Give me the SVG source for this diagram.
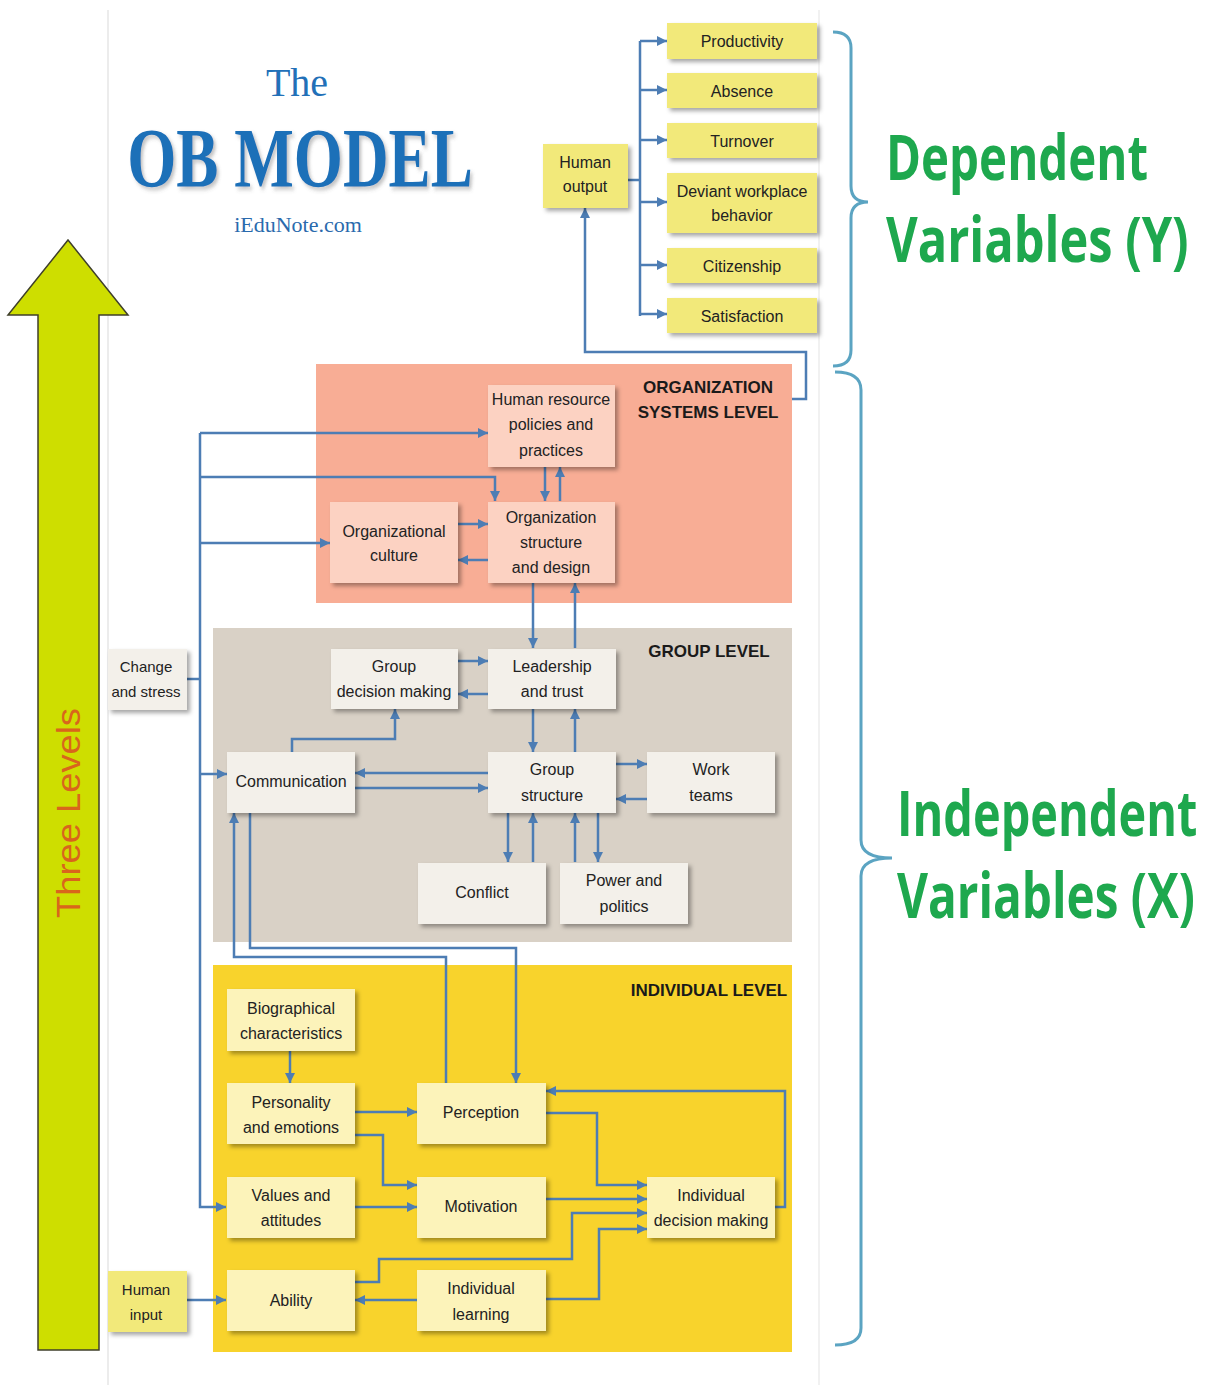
<svg xmlns="http://www.w3.org/2000/svg" width="1208" height="1385" viewBox="0 0 1208 1385">
<defs>
<filter id="sh" x="-10%" y="-10%" width="130%" height="140%">
<feDropShadow dx="3" dy="3" stdDeviation="2" flood-color="#000" flood-opacity="0.35"/>
</filter>
<filter id="tsh" x="-5%" y="-5%" width="110%" height="120%">
<feDropShadow dx="3" dy="3" stdDeviation="2" flood-color="#555" flood-opacity="0.35"/>
</filter>
<marker id="ah" viewBox="0 0 10 10" refX="10" refY="5" markerWidth="12" markerHeight="10" markerUnits="userSpaceOnUse" orient="auto">
<path d="M0,0 L10,5 L0,10 z" fill="#4d7db4"/>
</marker>
<style>
.n text{font-family:"Liberation Sans",Arial,sans-serif;font-size:16px;fill:#222;text-anchor:middle}
.side text{font-size:15px}
.out rect{fill:#f2e97a;filter:url(#sh)}
.org rect{fill:#fcd2c2;filter:url(#sh)}
.grp rect{fill:#f3f0ea;filter:url(#sh)}
.ind rect{fill:#fcf3ba;filter:url(#sh)}
.side rect{filter:url(#sh)}
.lvl{font-family:"Liberation Sans",Arial,sans-serif;font-weight:bold;font-size:17px;fill:#1a1a1a;text-anchor:middle}
.c path{fill:none;stroke:#4d7db4;stroke-width:2.5}
.c .a{marker-end:url(#ah)}
.var{font-family:"Open Sans","Liberation Sans",sans-serif;font-weight:bold;fill:#1ea84e;font-size:62px}
.brace{fill:none;stroke:#5ba4c2;stroke-width:3}
</style>
</defs>
<rect width="1208" height="1385" fill="#fff"/>
<line x1="108" y1="10" x2="108" y2="1385" stroke="#e6e6e6" stroke-width="1.5"/>
<line x1="819" y1="10" x2="819" y2="1385" stroke="#ececec" stroke-width="1.5"/>

<!-- Title -->
<g id="title">
<text x="297" y="96" font-family="Liberation Serif,serif" font-size="40" fill="#2270b8" text-anchor="middle">The</text>
<text transform="translate(300,187) scale(0.75,1)" font-family="Liberation Serif,serif" font-weight="bold" font-size="84" fill="#1f6fb8" text-anchor="middle" textLength="461" lengthAdjust="spacingAndGlyphs" filter="url(#tsh)">OB MODEL</text>
<text x="298" y="232" font-family="Liberation Serif,serif" font-size="22" fill="#2a6aad" text-anchor="middle">iEduNote.com</text>
</g>

<!-- Three Levels arrow -->
<g id="three-levels">
<polygon points="68,240 128,315 99,315 99,1350 38,1350 38,315 8,315" fill="#cede00" stroke="#3f3f2a" stroke-width="1.5"/>
<text transform="translate(80,813) rotate(-90)" font-family="Liberation Sans,sans-serif" font-size="33" fill="#d9651c" text-anchor="middle" textLength="210" lengthAdjust="spacingAndGlyphs">Three Levels</text>
</g>

<!-- Level panels -->
<g id="org-level">
<rect x="316" y="364" width="476" height="239" fill="#f8ad95"/>
<text class="lvl" x="708" y="393">ORGANIZATION</text>
<text class="lvl" x="708" y="418">SYSTEMS LEVEL</text>
</g>
<g id="group-level">
<rect x="213" y="628" width="579" height="314" fill="#d9d1c6"/>
<text class="lvl" x="709" y="657">GROUP LEVEL</text>
</g>
<g id="individual-level">
<rect x="213" y="965" width="579" height="387" fill="#f8d32c"/>
<text class="lvl" x="709" y="996">INDIVIDUAL LEVEL</text>
</g>

<!-- Connectors -->
<g id="connectors" class="c">
<path d="M628,180 H640 M640,41 V316"/>
<path class="a" d="M640,41 H667"/>
<path class="a" d="M640,90 H667"/>
<path class="a" d="M640,140 H667"/>
<path class="a" d="M640,202 H667"/>
<path class="a" d="M640,265 H667"/>
<path class="a" d="M640,314 H667"/>
<path class="a" d="M792,399 H806 V352 H585 V208"/>
<path class="a" d="M200,433 H488"/>
<path class="a" d="M200,477 H495 V501"/>
<path class="a" d="M200,543 H330"/>
<path class="a" d="M200,433 V1207 H226"/>
<path d="M187,679 H200"/>
<path class="a" d="M200,774 H227"/>
<path class="a" d="M545,467 V501"/>
<path class="a" d="M560,501 V467"/>
<path class="a" d="M458,524 H488"/>
<path class="a" d="M488,560 H458"/>
<path class="a" d="M533,583 V648"/>
<path class="a" d="M575,648 V583"/>
<path class="a" d="M458,661 H488"/>
<path class="a" d="M488,694 H458"/>
<path class="a" d="M533,709 V752"/>
<path class="a" d="M575,752 V709"/>
<path class="a" d="M292,752 V739 H395 V709"/>
<path class="a" d="M488,773 H355"/>
<path class="a" d="M355,788 H488"/>
<path class="a" d="M616,764 H647"/>
<path class="a" d="M647,799 H616"/>
<path class="a" d="M508,813 V862"/>
<path class="a" d="M533,862 V813"/>
<path class="a" d="M575,862 V813"/>
<path class="a" d="M598,813 V862"/>
<path class="a" d="M250,813 V948 H516 V1083"/>
<path class="a" d="M446,1083 V957 H234 V813"/>
<path class="a" d="M290,1051 V1083"/>
<path class="a" d="M355,1112 H417"/>
<path class="a" d="M355,1135 H383 V1185 H417"/>
<path class="a" d="M355,1207 H417"/>
<path class="a" d="M546,1113 H597 V1185 H647"/>
<path class="a" d="M546,1199 H647"/>
<path class="a" d="M355,1282 H379 V1259 H572 V1213 H647"/>
<path class="a" d="M546,1299 H599 V1229 H647"/>
<path class="a" d="M775,1207 H785 V1091 H546"/>
<path class="a" d="M417,1300 H355"/>
<path class="a" d="M187,1300 H226"/>
</g>

<!-- Output nodes -->
<g id="human-output" class="n out"><rect x="543" y="144" width="85" height="64"/><text x="585" y="168">Human</text><text x="585" y="192">output</text></g>
<g id="productivity" class="n out"><rect x="667" y="23" width="150" height="36"/><text x="742" y="47">Productivity</text></g>
<g id="absence" class="n out"><rect x="667" y="73" width="150" height="35"/><text x="742" y="97">Absence</text></g>
<g id="turnover" class="n out"><rect x="667" y="123" width="150" height="35"/><text x="742" y="147">Turnover</text></g>
<g id="deviant" class="n out"><rect x="667" y="173" width="150" height="60"/><text x="742" y="197">Deviant workplace</text><text x="742" y="221">behavior</text></g>
<g id="citizenship" class="n out"><rect x="667" y="248" width="150" height="35"/><text x="742" y="272">Citizenship</text></g>
<g id="satisfaction" class="n out"><rect x="667" y="298" width="150" height="35"/><text x="742" y="322">Satisfaction</text></g>

<!-- Organization level nodes -->
<g id="hr-policies" class="n org"><rect x="488" y="385" width="127" height="82"/><text x="551" y="405">Human resource</text><text x="551" y="430">policies and</text><text x="551" y="456">practices</text></g>
<g id="org-structure" class="n org"><rect x="488" y="502" width="127" height="81"/><text x="551" y="523">Organization</text><text x="551" y="548">structure</text><text x="551" y="573">and design</text></g>
<g id="org-culture" class="n org"><rect x="330" y="502" width="128" height="81"/><text x="394" y="537">Organizational</text><text x="394" y="561">culture</text></g>

<!-- Side inputs -->
<g id="change-stress" class="n side"><rect x="108" y="649" width="79" height="61" fill="#f3f0ea"/><text x="146" y="672">Change</text><text x="146" y="697">and stress</text></g>
<g id="human-input" class="n side"><rect x="108" y="1271" width="79" height="61" fill="#f2e97a"/><text x="146" y="1295">Human</text><text x="146" y="1320">input</text></g>

<!-- Group level nodes -->
<g id="group-decision" class="n grp"><rect x="331" y="649" width="127" height="60"/><text x="394" y="672">Group</text><text x="394" y="697">decision making</text></g>
<g id="leadership" class="n grp"><rect x="488" y="649" width="128" height="60"/><text x="552" y="672">Leadership</text><text x="552" y="697">and trust</text></g>
<g id="communication" class="n grp"><rect x="227" y="752" width="128" height="61"/><text x="291" y="787">Communication</text></g>
<g id="group-structure" class="n grp"><rect x="488" y="752" width="128" height="61"/><text x="552" y="775">Group</text><text x="552" y="801">structure</text></g>
<g id="work-teams" class="n grp"><rect x="647" y="752" width="128" height="61"/><text x="711" y="775">Work</text><text x="711" y="801">teams</text></g>
<g id="conflict" class="n grp"><rect x="418" y="863" width="128" height="61"/><text x="482" y="898">Conflict</text></g>
<g id="power-politics" class="n grp"><rect x="560" y="863" width="128" height="61"/><text x="624" y="886">Power and</text><text x="624" y="912">politics</text></g>

<!-- Individual level nodes -->
<g id="biographical" class="n ind"><rect x="227" y="989" width="128" height="62"/><text x="291" y="1014">Biographical</text><text x="291" y="1039">characteristics</text></g>
<g id="personality" class="n ind"><rect x="227" y="1083" width="128" height="61"/><text x="291" y="1108">Personality</text><text x="291" y="1133">and emotions</text></g>
<g id="values" class="n ind"><rect x="227" y="1177" width="128" height="61"/><text x="291" y="1201">Values and</text><text x="291" y="1226">attitudes</text></g>
<g id="ability" class="n ind"><rect x="227" y="1270" width="128" height="61"/><text x="291" y="1306">Ability</text></g>
<g id="perception" class="n ind"><rect x="417" y="1083" width="129" height="61"/><text x="481" y="1118">Perception</text></g>
<g id="motivation" class="n ind"><rect x="417" y="1177" width="129" height="61"/><text x="481" y="1212">Motivation</text></g>
<g id="individual-learning" class="n ind"><rect x="417" y="1270" width="129" height="61"/><text x="481" y="1294">Individual</text><text x="481" y="1320">learning</text></g>
<g id="individual-decision" class="n ind"><rect x="647" y="1177" width="128" height="61"/><text x="711" y="1201">Individual</text><text x="711" y="1226">decision making</text></g>

<!-- Braces and variable labels -->
<g id="dependent">
<path class="brace" d="M833,32 Q851,32 851,48 V186 Q851,202 868,202 Q851,202 851,218 V350 Q851,366 833,366"/>
<text class="var" transform="translate(886,180) scale(0.78,1)" textLength="336" lengthAdjust="spacingAndGlyphs">Dependent</text>
<text class="var" transform="translate(886,262) scale(0.78,1)" textLength="388" lengthAdjust="spacingAndGlyphs">Variables (Y)</text>
</g>
<g id="independent">
<path class="brace" d="M835,372 Q861,372 861,390 V840 Q861,858 892,858 Q861,858 861,876 V1328 Q861,1345 835,1345"/>
<text class="var" transform="translate(897,836) scale(0.78,1)" textLength="385" lengthAdjust="spacingAndGlyphs">Independent</text>
<text class="var" transform="translate(897,918) scale(0.78,1)" textLength="382" lengthAdjust="spacingAndGlyphs">Variables (X)</text>
</g>
</svg>
